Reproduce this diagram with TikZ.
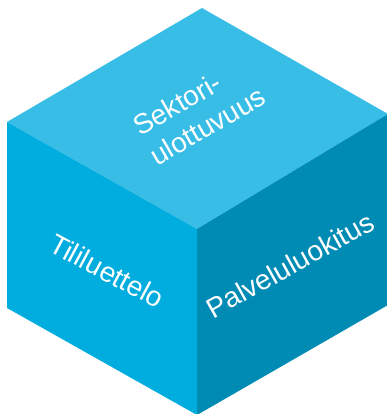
\documentclass[tikz,border=0pt]{standalone}
\usepackage{fontspec}
\setmainfont{Liberation Sans}
\usepackage{tikz}
\definecolor{cubetop}{RGB}{56,189,230}
\definecolor{cubeleft}{RGB}{0,173,222}
\definecolor{cuberight}{RGB}{0,139,181}
\tikzset{
  face/.style={line join=round},
  facelabel/.style={text=white, inner sep=0pt, font=\fontsize{28}{34}\selectfont},
}

\begin{document}
\begin{tikzpicture}[x=1pt, y=1pt]
  \useasboundingbox (0,0) rectangle (387,414);

  % cantos do cubo
  \coordinate (T) at (202,406);
  \coordinate (L) at (7,292);
  \coordinate (R) at (388,300);
  \coordinate (C) at (197,185);
  \coordinate (BL) at (7,106);
  \coordinate (BR) at (388,109);
  \coordinate (B) at (197,-1);

  % faces
  \fill[face, cubetop] (T) -- (R) -- (C) -- (L) -- cycle;
  \fill[face, cubeleft] (L) -- (C) -- (B) -- (BL) -- cycle;
  \fill[face, cuberight] (C) -- (R) -- (BR) -- (B) -- cycle;

  % textos
  \node[facelabel, align=left, rotate=30] (sektori) at (199,303) {Sektori-\\ulottuvuus};
  \node[facelabel, rotate=-28] (tili) at (107,143) {Tililuettelo};
  \node[facelabel, rotate=29] (palvelu) at (290,149) {Palveluluokitus};
\end{tikzpicture}
\end{document}
